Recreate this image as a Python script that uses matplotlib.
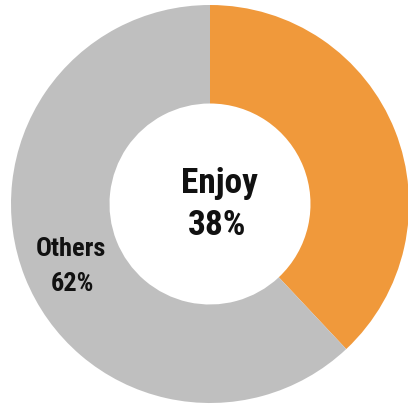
import matplotlib
matplotlib.use("Agg")
import matplotlib.pyplot as plt
from matplotlib import font_manager

labels = ["Enjoy", "Others"]
values = [38, 62]
colors = ["#F0993B", "#BFBFBF"]

names = {f.name for f in font_manager.fontManager.ttflist}
fam = "DejaVu Sans"
for cand in ["Roboto Condensed", "Archivo Narrow", "PT Sans Narrow", "Liberation Sans Narrow"]:
    if cand in names:
        fam = cand
        break
stretch = "condensed" if fam == "DejaVu Sans" else "normal"

W, H = 408, 410
cx, cy, R = 210, 205, 199
fig = plt.figure(figsize=(W / 100, H / 100), dpi=100)
ax = fig.add_axes([0, 0, 1, 1])
ax.pie(values, colors=colors, startangle=90, counterclock=False,
       radius=1.0, wedgeprops=dict(width=0.495, edgecolor="white", linewidth=0))
ax.set_xlim(-cx / R, (W - cx) / R)
ax.set_ylim(-(H - cy) / R, cy / R)
ax.set_aspect("equal")
ax.axis("off")

def px(x, y):
    return (x - cx) / R, (cy - y) / R

style = dict(ha="center", va="baseline", fontweight="bold", family=fam,
             fontstretch=stretch, color="#111111")
ax.text(*px(219, 193), labels[0], fontsize=25.5, **style)
ax.text(*px(217, 235), f"{values[0]}%", fontsize=25.5, **style)
ax.text(*px(71, 256), labels[1], fontsize=19, **style)
ax.text(*px(72, 291), f"{values[1]}%", fontsize=19, **style)

fig.savefig("out.png", dpi=100)
